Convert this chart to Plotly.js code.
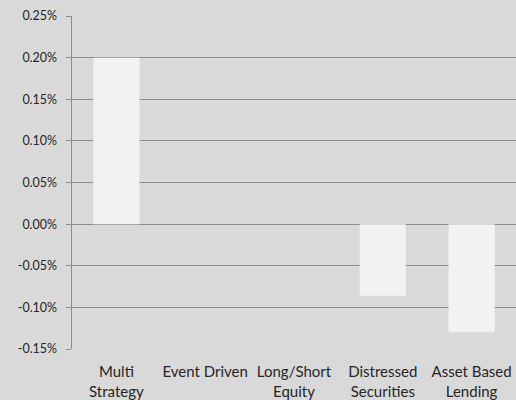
<!DOCTYPE html>
<html><head><meta charset="utf-8">
<script src="https://cdn.plot.ly/plotly-3.0.1.min.js"></script>
<style>html,body{margin:0;padding:0;background:#d9d9d9;}#chart{width:516px;height:400px;}</style>
</head><body><div id="chart"></div>
<script>
const categories = ["Multi<br>Strategy", "Event Driven", "Long/Short<br>Equity", "Distressed<br>Securities", "Asset Based<br>Lending"];
const values = [0.0020, 0.0, 0.0, -0.00086, -0.0013];
const tickVals = [-0.0015, -0.0010, -0.0005, 0, 0.0005, 0.0010, 0.0015, 0.0020, 0.0025];
const tickText = ["-0.15%", "-0.10%", "-0.05%", "0.00%", "0.05%", "0.10%", "0.15%", "0.20%", "0.25%"];

Plotly.newPlot('chart', [{
  type: 'bar', x: categories, y: values,
  marker: {color: '#f2f2f2'}, width: 0.52, hoverinfo: 'none'
}], {
  width: 516, height: 400,
  paper_bgcolor: '#d9d9d9', plot_bgcolor: '#d9d9d9',
  margin: {l: 72, r: 0, t: 16, b: 51},
  font: {family: 'Lato, "Open Sans", sans-serif', size: 13, color: '#262626'},
  showlegend: false,
  xaxis: {showgrid: false, showline: false, ticks: '', tickfont: {size: 15}, ticklabelstandoff: 12},
  yaxis: {range: [-0.0015, 0.0025], tickvals: tickVals,
    ticktext: tickText.map(t => t + '\u00a0\u00a0'),
    showgrid: true, gridcolor: '#8c8c8c', gridwidth: 1,
    zeroline: false, showline: true, linecolor: '#8c8c8c', linewidth: 1,
    ticks: 'outside', ticklen: 5, tickcolor: '#8c8c8c', tickfont: {size: 12.5}}
}, {staticPlot: true});
</script></body></html>
